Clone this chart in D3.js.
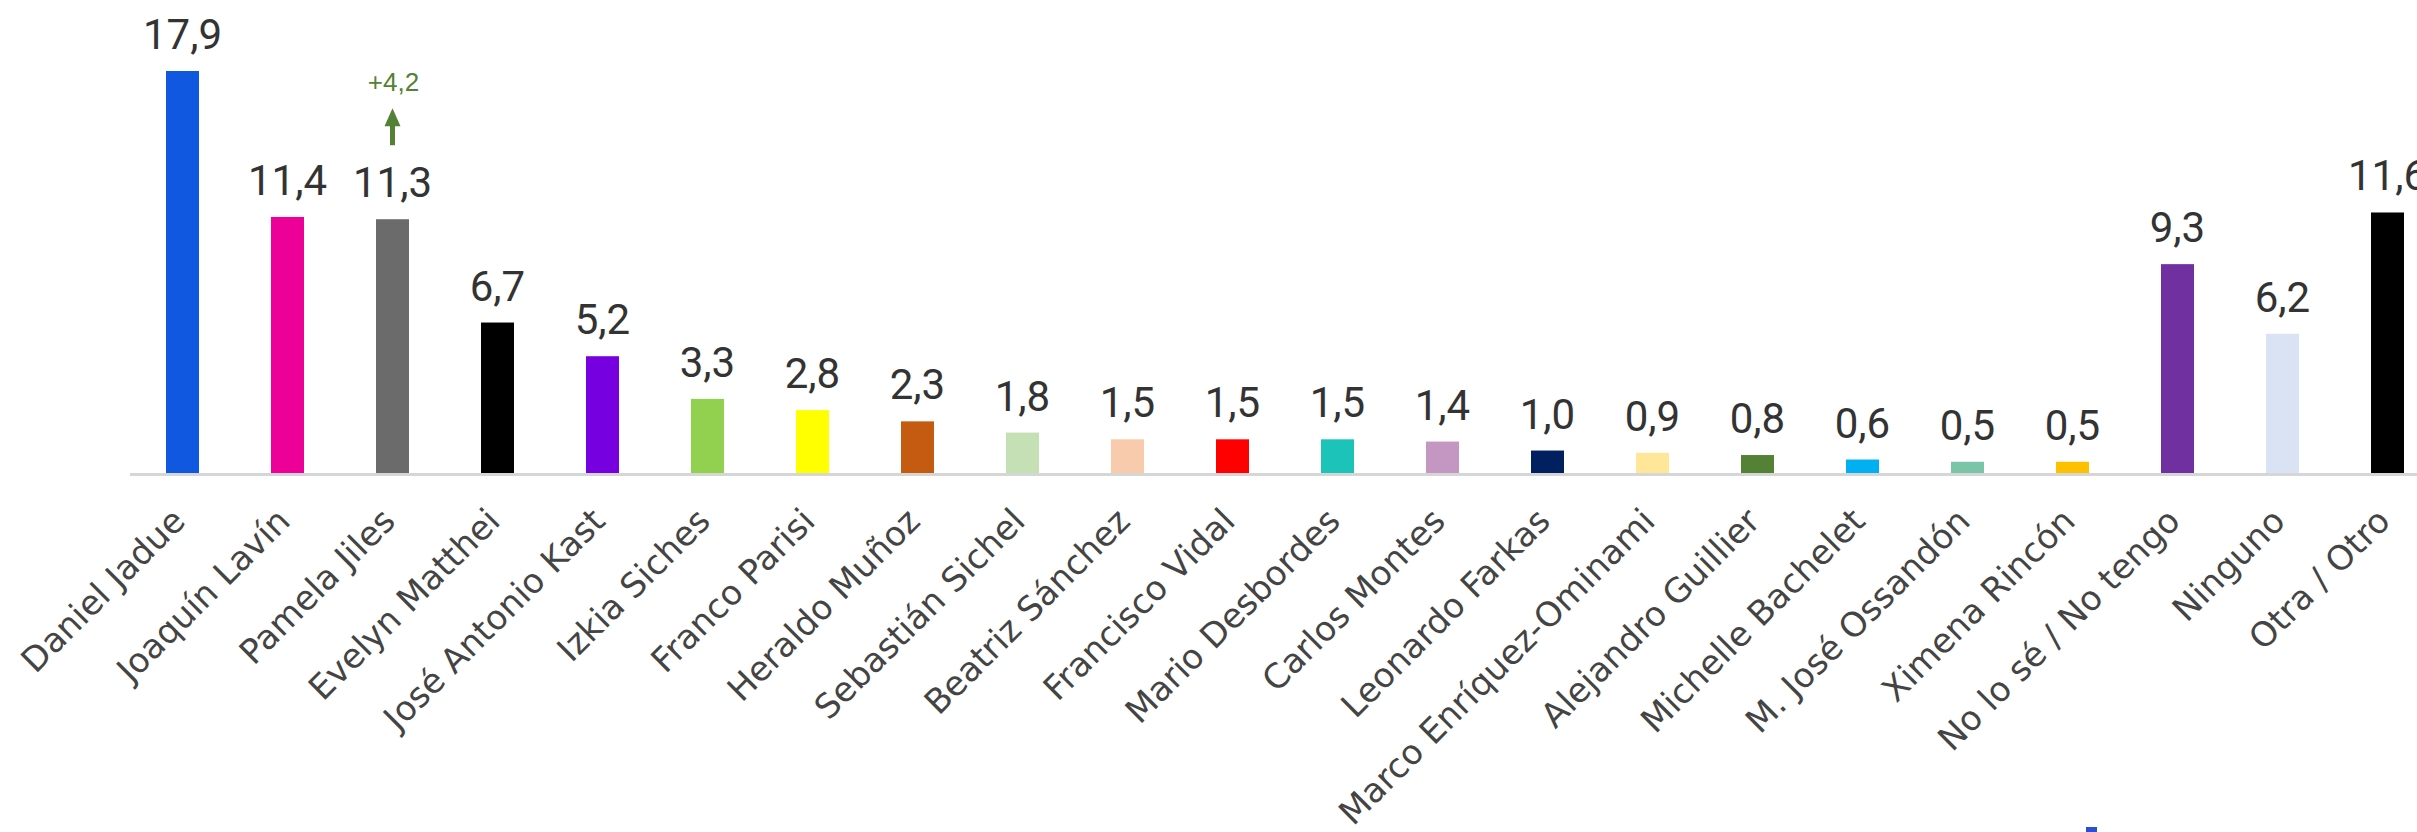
<!DOCTYPE html>
<html>
<head>
<meta charset="utf-8">
<script src="https://cdn.jsdelivr.net/npm/d3@7"></script>
<style>
  html, body { margin: 0; padding: 0; background: #ffffff; }
  svg { display: block; }
</style>
</head>
<body>
<svg id="chart" width="2417" height="832"></svg>
<script>
const categories = [
  "Daniel Jadue", "Joaquín Lavín", "Pamela Jiles", "Evelyn Matthei", "José Antonio Kast",
  "Izkia Siches", "Franco Parisi", "Heraldo Muñoz", "Sebastián Sichel", "Beatriz Sánchez",
  "Francisco Vidal", "Mario Desbordes", "Carlos Montes", "Leonardo Farkas", "Marco Enríquez-Ominami",
  "Alejandro Guillier", "Michelle Bachelet", "M. José Ossandón", "Ximena Rincón", "No lo sé / No tengo",
  "Ninguno", "Otra / Otro"
];
const values = [17.9, 11.4, 11.3, 6.7, 5.2, 3.3, 2.8, 2.3, 1.8, 1.5, 1.5, 1.5, 1.4, 1.0, 0.9, 0.8, 0.6, 0.5, 0.5, 9.3, 6.2, 11.6];
const colors = [
  "#1158e0", "#ec0098", "#6b6b6b", "#000000", "#7600e0",
  "#92d050", "#ffff00", "#c55a11", "#c5e0b4", "#f8cbad",
  "#ff0000", "#1cc3b8", "#c497c3", "#002060", "#ffe699",
  "#548235", "#00b0f0", "#7ac4a7", "#ffc000", "#7030a0",
  "#dae3f3", "#000000"
];
const annotationCategory = "Pamela Jiles";
const annotationText = "+4,2";

const fmt = v => d3.format(".1f")(v).replace(".", ",");

const svg = d3.select("#chart");
const baseY = 473;

const x = d3.scaleBand()
  .domain(categories)
  .range([130, 2440])
  .paddingInner(0.6857)
  .paddingOuter(0.6857 / 2);

const y = d3.scaleLinear()
  .domain([0, 17.9])
  .range([baseY, 71]);

const data = categories.map((c, i) => ({ c, v: values[i], col: colors[i] }));

// bars
svg.append("g").selectAll("rect")
  .data(data)
  .join("rect")
  .attr("x", d => x(d.c))
  .attr("y", d => y(d.v))
  .attr("width", x.bandwidth())
  .attr("height", d => y(0) - y(d.v))
  .attr("fill", d => d.col);

// axis
const axis = d3.axisBottom(x).tickSize(0).tickSizeOuter(0);
const gx = svg.append("g")
  .attr("transform", `translate(0,${baseY + 1.5})`)
  .call(axis);
gx.select(".domain")
  .attr("stroke", "#d6d6d6")
  .attr("stroke-width", 3)
  .attr("d", `M130,0H2417`);
gx.selectAll(".tick text")
  .attr("x", 0).attr("y", 0).attr("dy", null)
  .attr("text-anchor", "end")
  .attr("transform", "translate(4.5,48.5) rotate(-45)")
  .attr("fill", "#444444")
  .attr("font-family", "'DejaVu Sans', Verdana, sans-serif")
  .attr("font-size", 34);

// value labels
svg.append("g").selectAll("text")
  .data(data)
  .join("text")
  .attr("x", d => x(d.c) + x.bandwidth() / 2)
  .attr("y", d => y(d.v) - 22)
  .attr("text-anchor", "middle")
  .attr("fill", "#333333")
  .attr("font-family", "Roboto, sans-serif")
  .attr("font-size", 42)
  .text(d => fmt(d.v));

// annotation
const ad = data.find(d => d.c === annotationCategory);
const ax = x(ad.c) + x.bandwidth() / 2;
const ay = y(ad.v);
const ag = svg.append("g").attr("fill", "#538135");
ag.append("text")
  .attr("x", ax + 1)
  .attr("y", ay - 128)
  .attr("text-anchor", "middle")
  .attr("font-family", "'Liberation Sans', Arial, sans-serif")
  .attr("font-size", 26)
  .text(annotationText);
ag.append("rect")
  .attr("x", ax - 2.5).attr("y", ay - 96)
  .attr("width", 5).attr("height", 22);
ag.append("path")
  .attr("d", `M${ax},${ay - 111} L${ax + 8},${ay - 93} L${ax - 8},${ay - 93} Z`);

// cut-off logo fragment at bottom edge
svg.append("rect")
  .attr("x", 2086).attr("y", 827).attr("width", 11).attr("height", 5)
  .attr("fill", "#2b50d8");
</script>
</body>
</html>
